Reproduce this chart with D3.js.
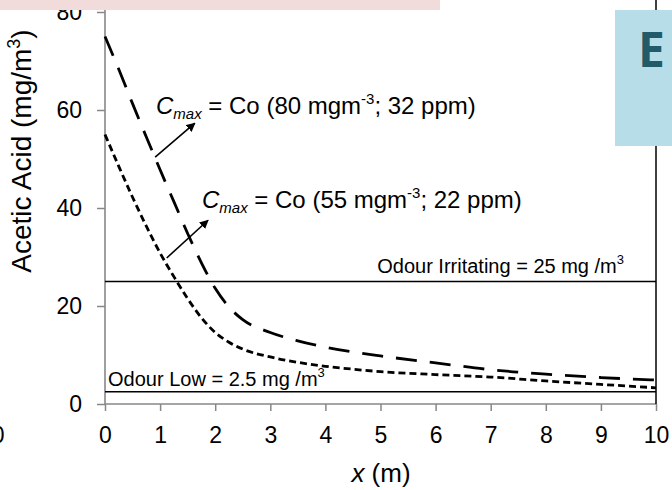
<!DOCTYPE html>
<html>
<head>
<meta charset="utf-8">
<script src="https://cdn.jsdelivr.net/npm/d3@7"></script>
<style>
  body { margin: 0; background: #fff; }
  svg { display: block; font-family: "Liberation Sans", Arial, sans-serif; }
</style>
</head>
<body>
<svg id="chart1" width="672" height="490"></svg>
<script>
// distance from source (m) and concentrations (mg/m3)
const distance = [0, 0.25, 0.5, 0.75, 1, 1.25, 1.5, 1.75, 2, 2.25, 2.5, 3, 3.5, 4, 4.5, 5, 6, 7, 8, 9, 10];
const conc80 = [75, 68.3, 61.3, 54.5, 47.8, 41.3, 34.8, 28.8, 23.6, 19.8, 17.2, 14.6, 12.9, 11.6, 10.6, 9.8, 8.4, 7.0, 6.1, 5.4, 4.9];
const conc55 = [55, 48.5, 42.2, 36.3, 30.8, 26.0, 21.5, 17.6, 14.6, 12.6, 11.2, 9.6, 8.5, 7.7, 7.1, 6.6, 6.0, 5.5, 4.7, 4.0, 3.3];
const odourLevels = [25, 2.5];
const xTicks = [0, 1, 2, 3, 4, 5, 6, 7, 8, 9, 10];
const yTicks = [0, 20, 40, 60, 80];

let margin = [];
margin.left = 105;
margin.right = 656;
margin.bottom = 404;
margin.top = 12;

const svg = d3.select("#chart1");
const xLinear = d3.scaleLinear().domain([0, 10]).range([margin.left, margin.right]);
const yLinear = d3.scaleLinear().domain([0, 80]).range([margin.bottom, margin.top]);

const axisGrey = "#878787";

// arrow marker
svg.append("defs").append("marker")
  .attr("id", "arrow")
  .attr("viewBox", "0 0 10 10")
  .attr("refX", 9).attr("refY", 5)
  .attr("markerWidth", 9).attr("markerHeight", 9)
  .attr("markerUnits", "userSpaceOnUse")
  .attr("orient", "auto")
  .append("path").attr("d", "M0,0 L10,5 L0,10 z").attr("fill", "#000");

// y axis
const yAxisG = svg.append("g")
  .attr("transform", "translate(" + margin.left + ",0)")
  .call(d3.axisLeft(yLinear).tickValues(yTicks).tickSize(8).tickSizeOuter(0).tickPadding(15));
yAxisG.select(".domain").remove();
yAxisG.selectAll("line").attr("stroke", axisGrey).attr("stroke-width", 1.5);
yAxisG.selectAll("text").attr("font-size", 23).attr("fill", "#000")
  .attr("font-family", "Liberation Sans, Arial, sans-serif");

// x axis
const xAxisG = svg.append("g")
  .attr("transform", "translate(0," + margin.bottom + ")")
  .call(d3.axisBottom(xLinear).tickValues(xTicks).tickSize(7).tickSizeOuter(0).tickPadding(16));
xAxisG.select(".domain").remove();
xAxisG.selectAll("line").attr("stroke", axisGrey).attr("stroke-width", 1.5);
xAxisG.selectAll("text").attr("font-size", 23).attr("fill", "#000")
  .attr("font-family", "Liberation Sans, Arial, sans-serif");

// axis lines (plot area runs past the top of the picture)
svg.append("line")
  .attr("x1", margin.left).attr("x2", margin.left)
  .attr("y1", 0).attr("y2", margin.bottom)
  .attr("stroke", axisGrey).attr("stroke-width", 1.6);
svg.append("line")
  .attr("x1", margin.left).attr("x2", margin.right)
  .attr("y1", margin.bottom).attr("y2", margin.bottom)
  .attr("stroke", axisGrey).attr("stroke-width", 1.6);
svg.append("line")
  .attr("x1", margin.right).attr("x2", margin.right)
  .attr("y1", 0).attr("y2", margin.bottom)
  .attr("stroke", "#000").attr("stroke-width", 1.5);

// odour thresholds
svg.selectAll("line.odour")
  .data(odourLevels)
  .enter().append("line")
  .attr("class", "odour")
  .attr("x1", margin.left).attr("x2", margin.right)
  .attr("y1", d => yLinear(d)).attr("y2", d => yLinear(d))
  .attr("stroke", "#000").attr("stroke-width", 1.5);

// curves
const line = d3.line().curve(d3.curveMonotoneX);
const pts80 = distance.map((d, i) => [xLinear(d), yLinear(conc80[i])]);
const pts55 = distance.map((d, i) => [xLinear(d), yLinear(conc55[i])]);

svg.append("path")
  .attr("d", line(pts80))
  .attr("fill", "none").attr("stroke", "#000")
  .attr("stroke-width", 2.8).attr("stroke-dasharray", "21,13");
svg.append("path")
  .attr("d", line(pts55))
  .attr("fill", "none").attr("stroke", "#000")
  .attr("stroke-width", 2.8).attr("stroke-dasharray", "7,4");

// arrows
svg.append("line")
  .attr("x1", xLinear(0.91)).attr("y1", yLinear(50.4))
  .attr("x2", xLinear(1.63)).attr("y2", yLinear(57.3))
  .attr("stroke", "#000").attr("stroke-width", 1.6)
  .attr("marker-end", "url(#arrow)");
svg.append("line")
  .attr("x1", xLinear(1.12)).attr("y1", yLinear(29.8))
  .attr("x2", xLinear(1.87)).attr("y2", yLinear(37.5))
  .attr("stroke", "#000").attr("stroke-width", 1.6)
  .attr("marker-end", "url(#arrow)");

// Cmax labels
function cmaxLabel(x, y, value, ppm) {
  const t = svg.append("text")
    .attr("x", x).attr("y", y)
    .attr("font-size", 24).attr("fill", "#000");
  t.append("tspan").attr("font-style", "italic").text("C");
  t.append("tspan").attr("font-style", "italic").attr("font-size", 15).attr("dy", 5).text("max");
  t.append("tspan").attr("dy", -5).text(" = Co (" + value + " mgm");
  t.append("tspan").attr("font-size", 15).attr("dy", -10).text("-3");
  t.append("tspan").attr("dy", 10).text("; " + ppm + " ppm)");
}
cmaxLabel(156, 114, 80, 32);
cmaxLabel(202, 208, 55, 22);

// odour labels
function supLabel(x, y, anchor, main) {
  const t = svg.append("text")
    .attr("x", x).attr("y", y)
    .attr("text-anchor", anchor)
    .attr("font-size", 20).attr("fill", "#000");
  t.append("tspan").text(main);
  t.append("tspan").attr("font-size", 13).attr("dy", -9).text("3");
}
supLabel(624, 273, "end", "Odour Irritating = 25 mg /m");
supLabel(108, 386, "start", "Odour Low = 2.5 mg /m");

// axis titles
const xTitle = svg.append("text")
  .attr("x", 381).attr("y", 482)
  .attr("text-anchor", "middle")
  .attr("font-size", 26).attr("fill", "#000");
xTitle.append("tspan").attr("font-style", "italic").text("x");
xTitle.append("tspan").text(" (m)");

const yTitle = svg.append("text")
  .attr("transform", "rotate(-90)")
  .attr("x", -151).attr("y", 31)
  .attr("text-anchor", "middle")
  .attr("font-size", 28).attr("fill", "#000");
yTitle.append("tspan").text("Acetic Acid  (mg/m");
yTitle.append("tspan").attr("font-size", 18).attr("dy", -11).text("3");
yTitle.append("tspan").attr("dy", 11).text(")");

// bits of neighbouring panels
svg.append("text")
  .attr("x", 4.5).attr("y", 443)
  .attr("text-anchor", "end")
  .attr("font-size", 23).attr("fill", "#000")
  .text("10");

svg.append("rect")
  .attr("x", 0).attr("y", 0)
  .attr("width", 440).attr("height", 10)
  .attr("fill", "#f2dcdb");

svg.append("rect")
  .attr("x", 615).attr("y", 10)
  .attr("width", 57).attr("height", 136)
  .attr("fill", "#b7dee8");
svg.append("text")
  .attr("x", 638).attr("y", 67)
  .attr("font-family", "'Open Sans', 'Liberation Sans', sans-serif")
  .attr("font-weight", "bold")
  .attr("font-size", 48)
  .attr("fill", "#215a69")
  .text("E");
</script>
</body>
</html>
